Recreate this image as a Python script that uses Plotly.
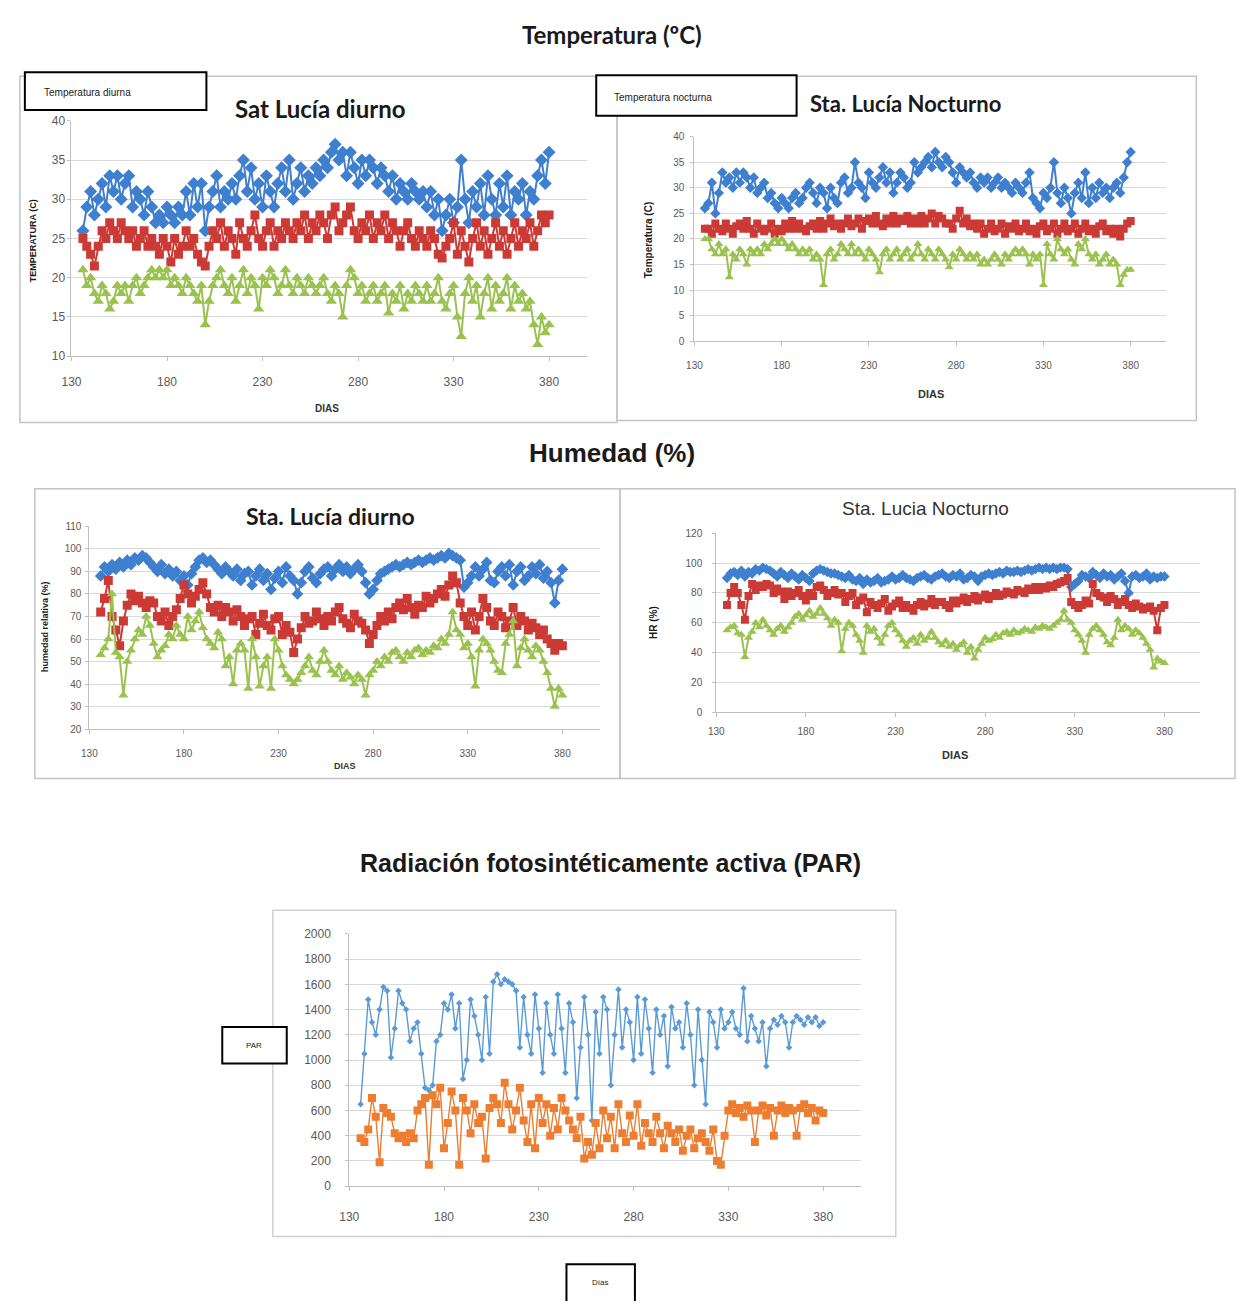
import plotly.graph_objects as go

# ---------------------------------------------------------------- data
# Every other day of the year, 136 .. 380
DIAS = list(range(136, 381, 2))

# Temperatura diurna (°C): máxima, media, mínima
T_DIU_MAX = [26, 29, 31, 28, 30, 32, 29, 33, 31, 33,
             30, 32, 33, 29, 31, 30, 28, 31, 29, 27,
             28, 27, 29, 28, 27, 29, 28, 31, 28, 32,
             29, 32, 26, 29, 31, 33, 29, 31, 30, 32,
             30, 33, 35, 31, 34, 30, 32, 29, 33, 31,
             29, 32, 34, 31, 35, 30, 32, 34, 31, 33,
             32, 34, 33, 35, 34, 36, 37, 35, 36, 33,
             36, 34, 32, 35, 33, 35, 34, 32, 34, 33,
             31, 33, 30, 32, 31, 30, 32, 31, 30, 31,
             29, 31, 28, 30, 26, 28, 30, 27, 29, 35,
             30, 27, 31, 29, 32, 28, 33, 30, 28, 32,
             29, 33, 28, 31, 30, 32, 28, 31, 30, 33,
             35, 32, 36]
T_DIU_MED = [25, 24, 23, 21.5, 24, 26, 25, 27, 26, 25,
             27, 26, 25, 26, 24, 25, 26, 24, 25, 24,
             23, 25, 24, 22, 25, 23, 24, 26, 24, 25,
             23, 22, 21.5, 24, 26, 25, 27, 24, 26, 25,
             23, 27, 25, 24, 26, 28, 25, 24, 26, 27,
             24, 26, 25, 27, 26, 25, 27, 26, 28, 25,
             27, 26, 28, 27, 25, 28, 29, 26, 27, 28,
             29, 26, 25, 27, 26, 28, 25, 27, 26, 28,
             25, 27, 26, 24, 26, 27, 25, 24, 26, 25,
             24, 26, 25, 23, 22.5, 24, 25, 27, 23, 26,
             24, 22, 25, 27, 24, 26, 23, 25, 27, 24,
             26, 23, 25, 27, 24, 26, 25, 27, 24, 26,
             28, 27, 28]
T_DIU_MIN = [21, 19, 20, 18, 17, 19, 18, 16, 17, 19,
             18, 19, 17, 19, 20, 18, 19, 20, 21, 20,
             21, 20, 21, 19, 20, 19, 18, 20, 19, 18,
             17, 19, 14, 17, 19, 20, 21, 19, 18, 20,
             17, 19, 21, 18, 20, 19, 16, 20, 19, 21,
             20, 18, 19, 21, 19, 18, 20, 19, 18, 20,
             19, 18, 19, 20, 18, 17, 19, 18, 15, 19,
             21, 20, 18, 19, 17, 18, 19, 17, 18, 19,
             15.5, 18, 17, 19, 16, 18, 17, 19, 18, 17,
             19, 17, 18, 20, 17, 16, 18, 19, 15, 12.5,
             18, 20, 17, 19, 15, 18, 20, 16, 19, 17,
             18, 20, 16, 19, 17, 18, 16, 17, 14, 11.5,
             15, 13, 14]

# Temperatura nocturna (°C)
T_NOC_MAX = [26, 27, 31, 25, 29, 33, 31, 32, 30, 33,
             31, 33, 32, 30, 32, 29, 30, 31, 28, 29,
             27, 26, 28, 27, 26, 28, 29, 27, 28, 30,
             31, 29, 27, 30, 29, 26, 30, 28, 27, 31,
             32, 29, 30, 35, 31, 30, 28, 33, 31, 30,
             32, 34, 31, 33, 29, 31, 33, 32, 30, 31,
             35, 33, 34, 35, 36, 34, 37, 35, 34, 36,
             35, 33, 31, 34, 33, 32, 33, 31, 30, 32,
             31, 32, 30, 31, 32, 30, 31, 30, 29, 31,
             30, 29, 31, 33, 28, 27, 26, 29, 28, 30,
             35, 29, 27, 30, 28, 25, 29, 31, 28, 33,
             27, 30, 28, 31, 29, 30, 28, 30, 31, 29,
             32, 35, 37]
T_NOC_MED = [22, 22, 21, 23, 22, 21.5, 23, 22, 21, 22.5,
             23, 22, 23.5, 22, 21, 23, 22, 21.5, 22, 23,
             21, 22, 21.5, 23, 22, 23.5, 22, 23, 22, 21.5,
             22.5, 23, 22, 23.5, 22, 23, 24, 22.5, 23, 22,
             23, 24, 22.5, 23, 24, 22, 23.5, 24, 23, 24.5,
             23, 22.5, 24, 23, 24.5, 23, 24, 23.5, 24.5, 23,
             24, 23, 24.5, 23, 24, 25, 23, 24.5, 24, 23,
             23, 22, 24, 25.5, 23, 24, 22.5, 23, 22, 23,
             21, 22, 23, 21.5, 22, 23, 21, 22.5, 22, 23,
             21.5, 22, 23, 21.5, 22, 21, 22.5, 23, 21.5, 22,
             23, 21, 22, 23, 21.5, 22, 23, 21, 22, 23,
             21.5, 22, 21, 22.5, 23, 21.5, 22, 21, 22, 20.5,
             22, 23, 23.5]
T_NOC_MIN = [20, 20, 18, 17, 19, 17, 18, 12.5, 17, 16,
             18, 17, 15, 18, 17, 18, 17, 19, 18, 19,
             20, 19, 20, 19, 18, 19, 18, 17, 18, 17,
             18, 16, 17, 16, 11, 17, 18, 16, 17, 19,
             18, 17, 19, 17, 18, 17, 16, 18, 17, 16,
             13.5, 17, 18, 16, 17, 18, 16, 17, 18, 16,
             17, 19, 17, 16, 18, 17, 16, 18, 17, 16,
             14.5, 17, 16, 18, 17, 16, 17, 16, 17, 15,
             16, 15, 16, 17, 16, 15, 17, 16, 17, 18,
             17, 18, 17, 15, 17, 16, 17, 11, 19, 17,
             16, 20, 18, 17, 18, 16, 15, 19, 18, 20,
             17, 16, 17, 15, 16, 17, 15, 16, 15, 11,
             13, 14, 14]

# Humedad relativa diurna (%)
HR_DIU_MAX = [88, 92, 90, 93, 91, 94, 92, 95, 93, 96,
              95, 97, 96, 94, 92, 90, 93, 89, 91, 88,
              90, 86, 88, 84, 89, 92, 95, 96, 94, 95,
              93, 91, 89, 92, 90, 88, 91, 86, 89, 90,
              84, 88, 91, 86, 89, 82, 87, 90, 85, 92,
              88, 86, 80, 85, 90, 92, 87, 85, 89, 91,
              92, 88, 91, 93, 90, 92, 89, 91, 93, 90,
              85, 80, 82, 86, 89, 90, 91, 92, 93, 92,
              93, 94, 93, 94, 95, 94, 95, 96, 95, 96,
              97, 96, 98, 97, 96, 95, 83, 85, 88, 92,
              88, 91, 94, 86, 85, 90, 92, 88, 93, 84,
              90, 92, 86, 88, 92, 89, 93, 87, 90, 85,
              76, 86, 91]
HR_DIU_MED = [72, 78, 86, 70, 64, 57, 68, 75, 80, 77,
              79, 76, 74, 77, 76, 70, 68, 72, 66, 70,
              73, 78, 84, 80, 76, 79, 82, 85, 80, 74,
              72, 75, 70, 74, 72, 68, 73, 70, 66, 69,
              70, 62, 67, 71, 66, 64, 69, 70, 62, 66,
              63, 54, 60, 65, 70, 67, 68, 72, 69, 66,
              70, 68, 72, 74, 69, 67, 65, 71, 68, 67,
              64, 58, 62, 66, 70, 68, 72, 69, 74, 76,
              73, 78, 74, 71, 75, 74, 79, 76, 78, 80,
              82, 79, 84, 88, 85, 76, 70, 66, 72, 64,
              70, 78, 74, 68, 66, 72, 70, 65, 68, 74,
              66, 70, 68, 64, 67, 65, 62, 64, 60, 58,
              55, 58, 57]
HR_DIU_MIN = [53, 56, 60, 80, 54, 52, 35, 50, 55, 60,
              64, 62, 70, 66, 58, 52, 55, 57, 62, 60,
              66, 62, 60, 70, 64, 68, 72, 65, 60, 58,
              56, 63, 60, 48, 52, 40, 55, 58, 55, 38,
              60, 52, 39, 48, 52, 38, 60, 55, 48, 44,
              42, 40, 42, 45, 48, 52, 46, 44, 50, 55,
              50, 46, 44, 48, 42, 45, 43, 40, 44, 42,
              35, 44, 46, 50, 48, 52, 50, 54, 55, 52,
              50, 54, 52, 55, 56, 53, 55, 54, 57, 56,
              60, 58, 62, 72, 64, 62, 56, 58, 52, 39,
              55, 60, 58, 55, 50, 46, 45, 58, 62, 68,
              48, 56, 60, 55, 52, 57, 55, 50, 45, 38,
              30, 38, 35]

# Humedad relativa nocturna (%)
HR_NOC_MAX = [90, 93, 94, 92, 95, 91, 94, 93, 96, 95,
              97, 96, 95, 93, 91, 94, 92, 90, 93, 91,
              89, 92, 90, 88, 93, 95, 96, 95, 94, 93,
              93, 92, 91, 90, 92, 89, 88, 90, 86, 89,
              87, 88, 90, 87, 88, 89, 91, 89, 90, 92,
              90, 89, 88, 90, 91, 92, 90, 89, 91, 92,
              93, 91, 90, 92, 91, 93, 89, 90, 92, 91,
              88, 91, 92, 93, 92, 93, 94, 93, 95, 94,
              94, 95, 94, 95, 96, 95, 96, 97, 96, 97,
              96, 97, 96, 97, 97, 96, 84, 86, 88, 92,
              91, 90, 94, 92, 90, 93, 91, 92, 89, 91,
              93, 88, 80, 91, 92, 90, 91, 93, 89, 91,
              90, 91, 91]
HR_NOC_MED = [72, 80, 84, 80, 72, 62, 78, 86, 82, 85,
              84, 86, 85, 80, 83, 81, 76, 81, 78, 80,
              82, 78, 75, 80, 78, 84, 85, 82, 78, 80,
              82, 79, 80, 74, 78, 80, 72, 75, 77, 67,
              74, 72, 70, 73, 76, 68, 71, 73, 75, 70,
              72, 70, 68, 72, 74, 71, 73, 76, 72, 74,
              74, 72, 70, 75, 73, 75, 77, 74, 76, 78,
              75, 77, 79, 76, 78, 80, 78, 79, 81, 80,
              79, 82, 81, 80, 83, 82, 84, 82, 84, 83,
              85, 84, 86, 87, 88, 90, 74, 72, 70, 72,
              75, 73, 86, 80, 78, 77, 74, 78, 76, 72,
              74, 76, 72, 70, 73, 71, 69, 70, 71, 68,
              55, 70, 72]
HR_NOC_MIN = [55, 57, 58, 53, 52, 37, 50, 54, 60, 57,
              62, 58, 55, 52, 56, 58, 54, 57, 60, 64,
              66, 62, 65, 68, 64, 66, 70, 66, 63, 58,
              62, 60, 41, 56, 60, 58, 52, 48, 40, 58,
              54, 56, 50, 46, 52, 58, 60, 55, 52, 48,
              44, 48, 50, 46, 52, 48, 50, 54, 50, 47,
              45, 48, 44, 46, 42, 45, 47, 40, 44, 36,
              42, 46, 50, 48, 49, 52, 50, 53, 54, 52,
              55, 53, 54, 56, 55, 54, 57, 56, 58, 57,
              56, 58, 60, 62, 68, 62, 60, 55, 52, 48,
              40, 52, 56, 58, 55, 52, 47, 45, 50, 62,
              55, 58, 56, 52, 55, 53, 50, 46, 42, 30,
              36, 34, 33]

# Radiación fotosintéticamente activa
PAR_MAX = [650, 1050, 1480, 1300, 1200, 1400, 1580, 1550, 1020, 1250,
           1550, 1450, 1400, 1150, 1250, 1300, 1050, 780, 760, 800,
           1150, 1200, 1450, 1400, 1520, 1250, 1450, 850, 1000, 1480,
           1350, 1200, 1000, 1500, 1050, 1620, 1680, 1600, 1640, 1620,
           1600, 1550, 1100, 1500, 1200, 1050, 1520, 1250, 900, 1450,
           1200, 1050, 1520, 1250, 900, 1450, 1300, 700, 1100, 1500,
           1200, 520, 1380, 1050, 1500, 1400, 800, 1200, 1560, 1100,
           1400, 1300, 1000, 1500, 1050, 1480, 1250, 900, 1400, 1200,
           1350, 950, 1420, 1250, 1300, 1100, 1450, 1200, 800, 1400,
           1000, 650, 1380, 1300, 1100, 1400, 1250, 1300, 1380, 1250,
           1200, 1570, 1150, 1350, 1250, 1150, 1300, 950, 1250, 1320,
           1280, 1350, 1300, 1100, 1300, 1350, 1320, 1280, 1340, 1300,
           1340, 1270, 1300]
PAR_MED = [380, 350, 450, 700, 550, 190, 620, 580, 550, 420,
           380, 400, 350, 420, 380, 600, 650, 700, 170, 720,
           650, 780, 300, 500, 750, 600, 170, 700, 600, 420,
           650, 500, 550, 220, 620, 700, 650, 500, 820, 650,
           450, 600, 780, 520, 350, 650, 300, 700, 500, 650,
           400, 620, 450, 700, 600, 520, 450, 380, 550, 220,
           350, 250, 500, 300, 600, 380, 550, 300, 650, 420,
           350, 560, 400, 650, 320, 500, 420, 350, 550, 420,
           300, 480, 420, 350, 450, 280, 400, 450, 300, 380,
           420, 350, 280, 450, 200, 170, 400, 600, 650, 580,
           620, 550, 640, 600, 350, 600, 640, 560, 620, 400,
           600, 640, 580, 620, 600, 400, 620, 650, 580, 620,
           520, 600, 580]

X_TICKS = [130, 180, 230, 280, 330, 380]

for serie in (T_DIU_MAX, T_DIU_MED, T_DIU_MIN, T_NOC_MAX, T_NOC_MED, T_NOC_MIN,
              HR_DIU_MAX, HR_DIU_MED, HR_DIU_MIN, HR_NOC_MAX, HR_NOC_MED, HR_NOC_MIN,
              PAR_MAX, PAR_MED):
    assert len(serie) == len(DIAS)

# ---------------------------------------------------------------- layout helpers
W, H = 1238, 1301


def fx(p):
    return p / W


def fy(p):
    return 1 - p / H


BLUE, RED, GREEN = "#3f7fcf", "#cc3a36", "#9ac24f"
PAR_BLUE, PAR_ORANGE = "#5b9bd5", "#ed7d31"
GRID = "#d9d9d9"
AXIS = "#bfbfbf"
TICKFONT = dict(family="Liberation Sans, Arial, sans-serif", size=11, color="#595959")

fig = go.Figure()


def add_series(vals, color, symbol, size, axis_id, width=2):
    fig.add_trace(go.Scatter(
        x=DIAS, y=vals, mode="lines+markers",
        line=dict(color=color, width=width),
        marker=dict(symbol=symbol, size=size, color=color),
        xaxis="x" + axis_id, yaxis="y" + axis_id,
        hoverinfo="x+y", showlegend=False,
    ))


# Temperatura diurna / nocturna
add_series(T_DIU_MAX, BLUE, "diamond", 10, "")
add_series(T_DIU_MED, RED, "square", 9, "")
add_series(T_DIU_MIN, GREEN, "triangle-up", 10, "")
add_series(T_NOC_MAX, BLUE, "diamond", 8, "2")
add_series(T_NOC_MED, RED, "square", 8, "2")
add_series(T_NOC_MIN, GREEN, "triangle-up", 8, "2")
# Humedad
add_series(HR_DIU_MAX, BLUE, "diamond", 9, "3")
add_series(HR_DIU_MED, RED, "square", 9, "3")
add_series(HR_DIU_MIN, GREEN, "triangle-up", 9, "3")
add_series(HR_NOC_MAX, BLUE, "diamond", 8, "4")
add_series(HR_NOC_MED, RED, "square", 8, "4")
add_series(HR_NOC_MIN, GREEN, "triangle-up", 8, "4")
# PAR
add_series(PAR_MAX, PAR_BLUE, "diamond", 5, "5", width=1.4)
add_series(PAR_MED, PAR_ORANGE, "square", 8, "5", width=1.4)


def x_axis(x0, x1, anchor, font_size, standoff):
    return dict(domain=[fx(x0), fx(x1)], range=[130, 400], anchor=anchor,
                tickvals=X_TICKS, showgrid=False, zeroline=False,
                showline=True, linecolor=AXIS, linewidth=1,
                ticks="outside", ticklen=4, tickcolor=AXIS,
                ticklabelstandoff=standoff,
                tickfont=dict(TICKFONT, size=font_size), fixedrange=True)


def y_axis(y_top, y_bot, rng, dtick, anchor, font_size, standoff):
    return dict(domain=[fy(y_bot), fy(y_top)], range=rng, dtick=dtick, anchor=anchor,
                showgrid=True, gridcolor=GRID, gridwidth=1, zeroline=False,
                showline=True, linecolor=AXIS, linewidth=1,
                ticks="outside", ticklen=3, tickcolor=AXIS,
                ticklabelstandoff=standoff,
                tickfont=dict(TICKFONT, size=font_size), fixedrange=True)


fig.update_layout(
    width=W, height=H,
    margin=dict(l=0, r=0, t=0, b=0),
    paper_bgcolor="white", plot_bgcolor="white",
    showlegend=False,
    xaxis=x_axis(62, 582, "y", 12, 10),
    yaxis=y_axis(115, 353, [10, 40], 5, "x", 12, 0),
    xaxis2=x_axis(690, 1165, "y2", 10, 11),
    yaxis2=y_axis(131, 338, [0, 40], 5, "x2", 10, 4),
    xaxis3=x_axis(80, 595, "y3", 10, 11),
    yaxis3=y_axis(525, 730, [20, 110], 10, "x3", 10, 2),
    xaxis4=x_axis(712, 1200, "y4", 10, 6),
    yaxis4=y_axis(532, 713, [0, 120], 20, "x4", 10, 8),
    xaxis5=x_axis(342, 858, "y5", 12, 15),
    yaxis5=y_axis(937, 1192, [0, 2000], 200, "x5", 12, 12),
)

# ---------------------------------------------------------------- frames and label boxes
shapes = []


def rect(x0, y0, x1, y1, color, width, fill="rgba(0,0,0,0)"):
    shapes.append(dict(type="rect", xref="paper", yref="paper",
                       x0=fx(x0), x1=fx(x1), y0=fy(y1), y1=fy(y0),
                       line=dict(color=color, width=width), fillcolor=fill))


rect(10, 70, 612, 420, "#c4c4c4", 1.5)
rect(612, 70, 1196, 418, "#c4c4c4", 1.5)
rect(25, 487, 615, 780, "#c4c4c4", 1.5)
rect(615, 487, 1235, 780, "#c4c4c4", 1.5)
rect(265, 913, 893, 1243, "#d0d0d0", 1.5)
rect(15, 66, 198, 104, "black", 2, "white")
rect(591, 69, 793, 110, "black", 2, "white")
rect(214, 1031, 279, 1068, "black", 2, "white")
rect(561, 1271, 630, 1310, "black", 2, "white")
fig.update_layout(shapes=shapes)

# ---------------------------------------------------------------- texts
SANS = "Liberation Sans, Arial, sans-serif"
HUMAN = "Lato, Open Sans, sans-serif"


def text(x, y, s, size, family=SANS, color="#1a1a1a", angle=0, xanchor="center"):
    fig.add_annotation(x=fx(x), y=fy(y), xref="paper", yref="paper", text=s,
                       showarrow=False, textangle=angle, xanchor=xanchor, yanchor="middle",
                       font=dict(family=family, size=size, color=color))


text(607, 28, "<b>Temperatura (ºC)</b>", 24, HUMAN)
text(313, 103, "<b>Sat Lucía diurno</b>", 24, HUMAN)
text(903, 98, "<b>Sta. Lucía Nocturno</b>", 22, HUMAN)
text(607, 451, "<b>Humedad (%)</b>", 26)
text(323, 515, "<b>Sta. Lucía diurno</b>", 23, HUMAN)
text(923, 507, "Sta. Lucia Nocturno", 19, SANS, "#333333")
text(605, 865, "<b>Radiación fotosintéticamente activa (PAR)</b>", 25)

text(24, 236, "<b>TEMPERATURA (C)</b>", 9, SANS, angle=-90)
text(644, 235, "<b>Temperatura (C)</b>", 10, SANS, angle=-90)
text(36, 626, "<b>humedad relativa (%)</b>", 9, SANS, angle=-90)
text(649, 622, "<b>HR (%)</b>", 10, SANS, angle=-90)

text(320, 406, "<b>DIAS</b>", 10, SANS, "#333333")
text(928, 391, "<b>DIAS</b>", 11, SANS, "#333333")
text(338, 767, "<b>DIAS</b>", 9, SANS, "#333333")
text(953, 756, "<b>DIAS</b>", 11, SANS, "#333333")

text(32, 86, "Temperatura diurna", 10, SANS, "#222222", xanchor="left")
text(607, 91, "Temperatura nocturna", 10, SANS, "#222222", xanchor="left")
text(246, 1050, "PAR", 8, SANS, "#222222")
text(595, 1289, "Días", 8, SANS, "#222222")

fig.write_html("out.html")
